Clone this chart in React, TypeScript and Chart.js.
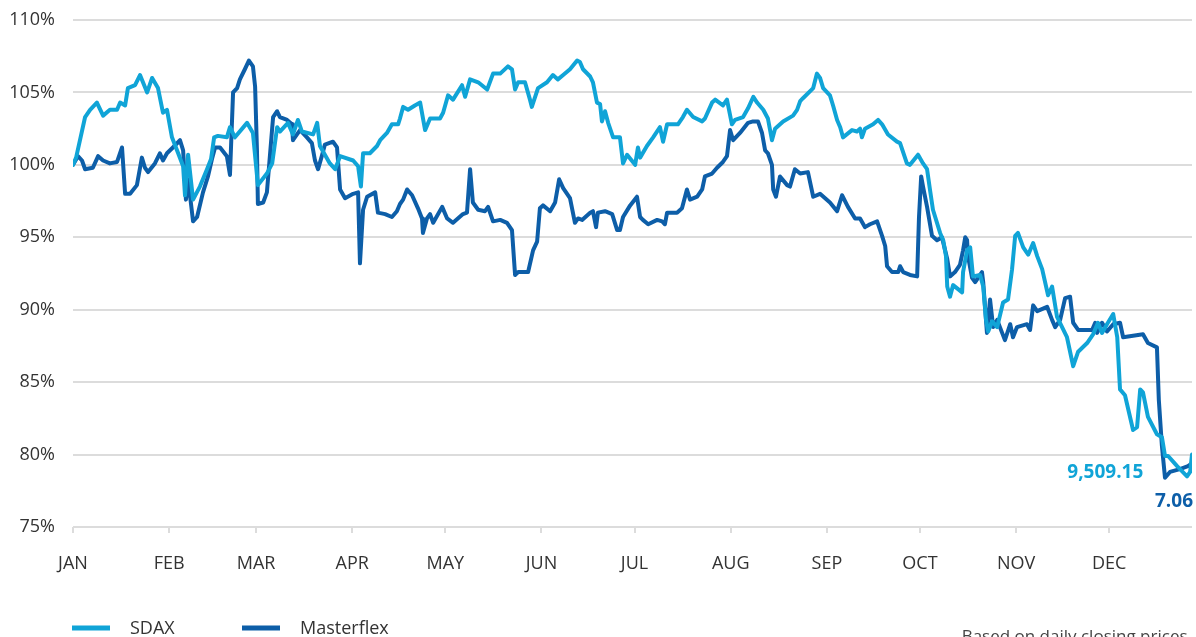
import React, { useEffect, useRef } from "react";
import { Chart, registerables } from "chart.js";

Chart.register(...registerables);

const monthLabels = ["JAN", "FEB", "MAR", "APR", "MAY", "JUN", "JUL", "AUG", "SEP", "OCT", "NOV", "DEC"];
const monthStartDays = [0, 31, 59, 90, 120, 151, 181, 212, 243, 273, 304, 334];
const yTickValues = [75, 80, 85, 90, 95, 100, 105, 110];

const seriesNames = ["SDAX", "Masterflex"];
const endLabels = ["9,509.15", "7.06"];
const footnote = "Based on daily closing prices.";

const sdaxDays = [0, 1.0, 3.9, 5.5, 7.7, 9.7, 11.9, 14.2, 15.2, 16.8, 17.7, 20.0, 21.6, 23.9, 25.5, 27.4, 29.0, 30.3, 31.9, 33.9, 35.5, 36.1, 37.1, 38.7, 40.9, 43.2, 44.5, 45.5, 46.7, 49.6, 50.6, 52.2, 56.1, 58.0, 59.6, 62.5, 64.2, 65.8, 66.7, 69.3, 70.9, 72.5, 73.8, 77.4, 78.7, 79.6, 82.8, 84.5, 86.1, 90.3, 91.9, 92.8, 93.5, 95.7, 98.0, 99.0, 101.2, 102.8, 104.8, 105.4, 106.4, 108.0, 110.2, 111.9, 113.5, 115.1, 118.3, 119.3, 120.9, 122.5, 125.4, 126.4, 128.0, 130.6, 133.5, 135.4, 137.7, 140.2, 141.5, 142.5, 143.5, 145.7, 147.3, 147.9, 149.9, 152.8, 154.7, 156.3, 158.0, 160.2, 162.5, 163.4, 164.4, 166.7, 167.6, 168.9, 169.9, 170.5, 171.5, 172.5, 174.1, 176.3, 177.3, 178.6, 181.2, 182.1, 182.8, 185.0, 187.0, 189.2, 190.2, 191.5, 195.0, 196.6, 197.9, 199.9, 202.8, 203.7, 206.0, 207.0, 209.5, 210.8, 212.4, 213.4, 216.0, 217.6, 219.3, 220.5, 222.5, 224.0, 225.3, 226.3, 228.9, 232.1, 233.4, 234.4, 235.3, 238.6, 239.8, 240.8, 241.8, 244.0, 245.0, 246.3, 247.3, 248.2, 251.1, 252.7, 253.7, 254.3, 255.3, 257.9, 259.5, 260.8, 262.7, 265.6, 266.6, 268.8, 269.8, 272.4, 274.0, 275.3, 276.3, 277.2, 279.5, 280.5, 281.4, 281.8, 282.7, 283.7, 286.6, 286.9, 288.2, 289.2, 290.1, 292.4, 293.4, 294.3, 295.0, 296.3, 297.9, 299.8, 301.4, 302.7, 303.7, 304.6, 306.3, 307.9, 309.5, 310.8, 312.4, 314.3, 315.6, 317.2, 320.4, 322.4, 324.0, 326.9, 328.8, 330.4, 331.7, 333.3, 335.3, 336.6, 337.5, 339.1, 341.7, 343.0, 344.0, 344.9, 346.5, 349.4, 351.0, 352.0, 353.0, 355.9, 359.1, 360.1, 360.7];
const sdaxValues = [100.0, 100.5, 103.3, 103.8, 104.3, 103.4, 103.8, 103.8, 104.3, 104.1, 105.3, 105.5, 106.2, 105.0, 106.0, 105.3, 103.6, 103.8, 101.9, 100.8, 99.9, 97.9, 100.7, 97.6, 98.5, 99.7, 100.4, 101.9, 102.0, 101.9, 102.6, 101.9, 102.9, 102.2, 98.6, 99.4, 100.1, 102.6, 102.3, 102.9, 102.1, 103.1, 102.3, 102.1, 102.9, 101.3, 100.1, 99.7, 100.6, 100.3, 99.9, 98.5, 100.8, 100.8, 101.3, 101.7, 102.2, 102.8, 102.8, 103.2, 104.0, 103.8, 104.1, 104.3, 102.4, 103.2, 103.2, 103.6, 104.8, 104.5, 105.5, 104.7, 105.9, 105.7, 105.2, 106.3, 106.3, 106.8, 106.6, 105.2, 105.7, 105.7, 104.5, 104.0, 105.3, 105.7, 106.2, 105.9, 106.2, 106.6, 107.2, 107.1, 106.6, 106.1, 105.7, 104.3, 104.2, 103.0, 103.7, 102.9, 101.9, 101.9, 100.1, 100.7, 100.0, 101.2, 100.5, 101.3, 101.9, 102.6, 101.6, 102.8, 102.8, 103.3, 103.8, 103.3, 103.0, 103.2, 104.3, 104.5, 104.1, 104.5, 102.8, 103.1, 103.3, 103.9, 104.7, 104.3, 103.8, 103.2, 101.7, 102.5, 103.0, 103.4, 103.8, 104.4, 104.6, 105.3, 106.3, 106.0, 105.3, 104.8, 104.1, 103.1, 102.6, 101.9, 102.4, 102.3, 102.5, 101.9, 102.5, 102.8, 103.1, 102.8, 102.1, 101.6, 101.5, 100.1, 100.0, 100.7, 100.1, 99.7, 98.2, 96.9, 95.3, 94.8, 93.7, 91.6, 90.9, 91.7, 91.2, 92.6, 94.1, 94.3, 92.3, 92.4, 91.6, 89.3, 88.5, 89.2, 88.8, 90.5, 90.7, 92.8, 95.1, 95.3, 94.3, 93.8, 94.6, 93.7, 92.8, 91.0, 91.6, 89.5, 88.1, 86.1, 87.1, 87.7, 88.3, 89.1, 88.4, 89.0, 89.7, 88.1, 84.5, 84.1, 81.7, 81.9, 84.5, 84.3, 82.6, 81.4, 81.2, 79.9, 79.9, 79.2, 78.5, 78.8, 80.0];

const mfDays = [0, 1.6, 2.9, 3.9, 6.4, 8.1, 9.7, 11.9, 14.2, 15.8, 16.8, 18.4, 20.6, 22.2, 23.2, 24.2, 26.4, 28.0, 29.0, 30.3, 32.2, 34.5, 35.5, 36.4, 37.1, 38.7, 40.0, 41.9, 43.5, 44.8, 45.8, 47.4, 49.6, 50.6, 51.6, 52.9, 53.8, 55.4, 56.7, 58.0, 58.7, 59.3, 59.6, 61.3, 62.5, 64.5, 65.8, 66.7, 69.0, 70.6, 70.9, 72.2, 73.2, 75.4, 77.0, 78.0, 79.0, 80.2, 81.2, 83.8, 85.1, 86.1, 87.7, 90.3, 91.9, 92.5, 93.5, 94.8, 97.4, 98.3, 100.6, 102.8, 104.4, 105.4, 106.4, 107.7, 109.3, 111.2, 112.5, 112.8, 114.1, 115.1, 116.1, 119.0, 120.6, 122.5, 125.7, 127.0, 128.0, 128.9, 130.6, 132.8, 133.8, 135.4, 137.7, 139.9, 141.5, 142.5, 143.5, 146.7, 148.3, 149.6, 150.5, 151.5, 153.8, 155.4, 156.7, 158.0, 160.2, 161.8, 162.8, 164.1, 166.7, 167.6, 168.6, 169.2, 171.5, 173.8, 175.4, 176.3, 177.3, 179.6, 181.8, 182.8, 183.7, 185.4, 188.3, 189.9, 190.8, 191.5, 194.7, 196.3, 197.9, 198.9, 201.2, 202.8, 203.7, 206.0, 207.6, 209.5, 210.8, 211.8, 212.8, 215.0, 217.6, 219.2, 220.8, 222.1, 223.1, 224.0, 225.3, 225.7, 226.6, 227.9, 230.2, 231.1, 232.7, 234.4, 236.9, 238.6, 240.8, 244.0, 246.3, 247.9, 249.8, 252.1, 253.7, 255.3, 256.9, 259.2, 260.8, 261.8, 262.4, 264.0, 266.0, 266.6, 267.6, 269.8, 272.1, 272.7, 273.4, 274.0, 275.3, 276.9, 278.5, 280.1, 281.8, 282.7, 284.3, 285.9, 286.9, 287.6, 288.2, 288.5, 289.8, 290.8, 293.0, 293.4, 294.6, 295.6, 296.6, 297.9, 299.5, 300.4, 302.1, 303.0, 304.3, 307.5, 308.5, 309.5, 310.8, 314.0, 315.6, 316.6, 318.2, 319.8, 321.4, 322.4, 324.0, 328.5, 329.5, 330.1, 331.7, 333.3, 335.3, 337.5, 338.5, 344.9, 346.5, 349.4, 350.0, 351.0, 352.0, 353.6, 356.8, 359.4, 360.7];
const mfValues = [100.0, 100.6, 100.3, 99.7, 99.8, 100.6, 100.3, 100.1, 100.2, 101.2, 98.0, 98.0, 98.6, 100.5, 99.8, 99.5, 100.1, 100.8, 100.3, 100.8, 101.2, 101.7, 101.0, 97.6, 99.0, 96.1, 96.4, 98.1, 99.2, 100.4, 101.2, 101.2, 100.6, 99.3, 105.0, 105.3, 105.9, 106.6, 107.2, 106.8, 105.4, 101.0, 97.3, 97.4, 98.1, 103.3, 103.7, 103.3, 103.1, 102.8, 101.7, 102.1, 102.4, 101.9, 101.5, 100.3, 99.7, 100.6, 101.4, 101.6, 101.2, 98.3, 97.7, 98.0, 98.1, 93.2, 96.9, 97.8, 98.1, 96.7, 96.6, 96.4, 96.8, 97.3, 97.6, 98.3, 97.9, 97.0, 96.3, 95.3, 96.3, 96.6, 96.0, 97.1, 96.3, 96.0, 96.6, 96.7, 99.7, 97.4, 96.9, 96.8, 97.1, 96.1, 96.2, 96.0, 95.5, 92.4, 92.6, 92.6, 94.1, 94.7, 97.0, 97.2, 96.8, 97.4, 99.0, 98.4, 97.7, 96.0, 96.3, 96.2, 96.7, 96.8, 95.7, 96.7, 96.8, 96.6, 95.5, 95.5, 96.4, 97.2, 97.8, 96.4, 96.2, 95.9, 96.2, 96.1, 95.9, 96.7, 96.7, 97.0, 98.3, 97.6, 97.8, 98.3, 99.2, 99.4, 99.8, 100.2, 100.6, 102.4, 101.7, 102.2, 102.9, 103.0, 103.0, 102.2, 101.0, 100.8, 100.0, 98.3, 97.8, 99.2, 98.6, 98.5, 99.7, 99.4, 99.5, 97.8, 98.0, 97.4, 96.8, 97.9, 97.1, 96.3, 96.3, 95.7, 95.9, 96.1, 95.1, 94.4, 93.0, 92.6, 92.6, 93.0, 92.6, 92.4, 92.3, 96.4, 99.2, 98.5, 97.1, 95.1, 94.8, 95.0, 93.5, 92.3, 92.6, 93.1, 94.1, 95.0, 94.8, 93.7, 92.2, 91.9, 92.6, 91.9, 88.4, 90.7, 88.8, 89.3, 88.4, 87.9, 89.0, 88.1, 88.8, 89.0, 88.6, 90.3, 89.9, 90.2, 89.3, 88.8, 89.3, 90.8, 90.9, 89.1, 88.6, 88.6, 89.1, 88.4, 89.1, 88.5, 89.0, 89.1, 88.1, 88.3, 87.7, 87.4, 83.8, 80.6, 78.4, 78.8, 79.0, 79.2, 79.4];

const SDAX_COLOR = "#10a4d7";
const MF_COLOR = "#0d5ea8";
const TEXT_COLOR = "#333333";
const GRID_COLOR = "#dcdcdc";
const FONT = "'Open Sans', 'Noto Sans', sans-serif";

const overlayPlugin = {
  id: "overlay",
  afterDraw(chart: any) {
    const { ctx, scales, chartArea } = chart;
    const x = scales.x;
    const y = scales.y;
    ctx.save();
    // end value labels
    ctx.font = `bold 19px ${FONT}`;
    ctx.textAlign = "right";
    ctx.textBaseline = "middle";
    ctx.fillStyle = SDAX_COLOR;
    ctx.fillText(endLabels[0], x.getPixelForValue(345), y.getPixelForValue(78.75));
    ctx.fillStyle = MF_COLOR;
    ctx.fillText(endLabels[1], chartArea.right + 1, y.getPixelForValue(76.75));

    // legend
    const legendY = 628;
    const items = [
      { label: seriesNames[0], color: SDAX_COLOR, x0: 72 },
      { label: seriesNames[1], color: MF_COLOR, x0: 242 },
    ];
    ctx.font = `18px ${FONT}`;
    ctx.textAlign = "left";
    items.forEach((it) => {
      ctx.strokeStyle = it.color;
      ctx.lineWidth = 5;
      ctx.lineCap = "butt";
      ctx.beginPath();
      ctx.moveTo(it.x0, legendY);
      ctx.lineTo(it.x0 + 38, legendY);
      ctx.stroke();
      ctx.fillStyle = TEXT_COLOR;
      ctx.fillText(it.label, it.x0 + 58, legendY + 1);
    });

    // footnote
    ctx.font = `17px ${FONT}`;
    ctx.textAlign = "right";
    ctx.fillStyle = "#444444";
    ctx.fillText(footnote, chartArea.right, 637);
    ctx.restore();
  },
};

export default function App() {
  const canvasRef = useRef<HTMLCanvasElement | null>(null);

  useEffect(() => {
    if (!canvasRef.current) return;
    const chart = new Chart(canvasRef.current, {
      type: "line",
      data: {
        datasets: [
          {
            label: seriesNames[0],
            data: sdaxDays.map((d, i) => ({ x: d, y: sdaxValues[i] })),
            borderColor: SDAX_COLOR,
            borderWidth: 4,
            pointRadius: 0,
            tension: 0,
            borderJoinStyle: "round",
            borderCapStyle: "round",
          },
          {
            label: seriesNames[1],
            data: mfDays.map((d, i) => ({ x: d, y: mfValues[i] })),
            borderColor: MF_COLOR,
            borderWidth: 4,
            pointRadius: 0,
            tension: 0,
            borderJoinStyle: "round",
            borderCapStyle: "round",
          },
        ],
      },
      options: {
        animation: false,
        responsive: true,
        maintainAspectRatio: false,
        layout: { padding: { left: 0, right: 4, top: 20, bottom: 50 } },
        plugins: { legend: { display: false }, tooltip: { enabled: false } },
        scales: {
          x: {
            type: "linear",
            min: 0,
            max: 360.7,
            afterBuildTicks: (scale: any) => {
              scale.ticks = monthStartDays.map((v) => ({ value: v }));
            },
            afterFit: (scale: any) => {
              scale.height = 60;
            },
            ticks: {
              callback: (v: any) => monthLabels[monthStartDays.indexOf(Number(v))] ?? "",
              color: TEXT_COLOR,
              font: { family: FONT, size: 18 },
              padding: 20,
              maxRotation: 0,
              autoSkip: false,
            },
            grid: {
              drawOnChartArea: false,
              drawTicks: true,
              tickLength: 6,
              color: GRID_COLOR,
              lineWidth: 2,
            },
            border: { display: false },
          },
          y: {
            min: 75,
            max: 110,
            afterBuildTicks: (scale: any) => {
              scale.ticks = yTickValues.map((v) => ({ value: v }));
            },
            afterFit: (scale: any) => {
              scale.width = 73;
              scale.paddingTop = 10;
              scale.paddingBottom = 10;
            },
            ticks: {
              callback: (v: any) => `${v}%`,
              color: TEXT_COLOR,
              font: { family: FONT, size: 18 },
              padding: 18,
            },
            grid: { color: GRID_COLOR, lineWidth: 2, drawTicks: false },
            border: { display: false },
          },
        },
      },
      plugins: [overlayPlugin],
    });
    return () => chart.destroy();
  }, []);

  return (
    <div style={{ position: "absolute", left: 0, top: 0, width: 1196, height: 637 }}>
      <canvas ref={canvasRef} />
    </div>
  );
}
